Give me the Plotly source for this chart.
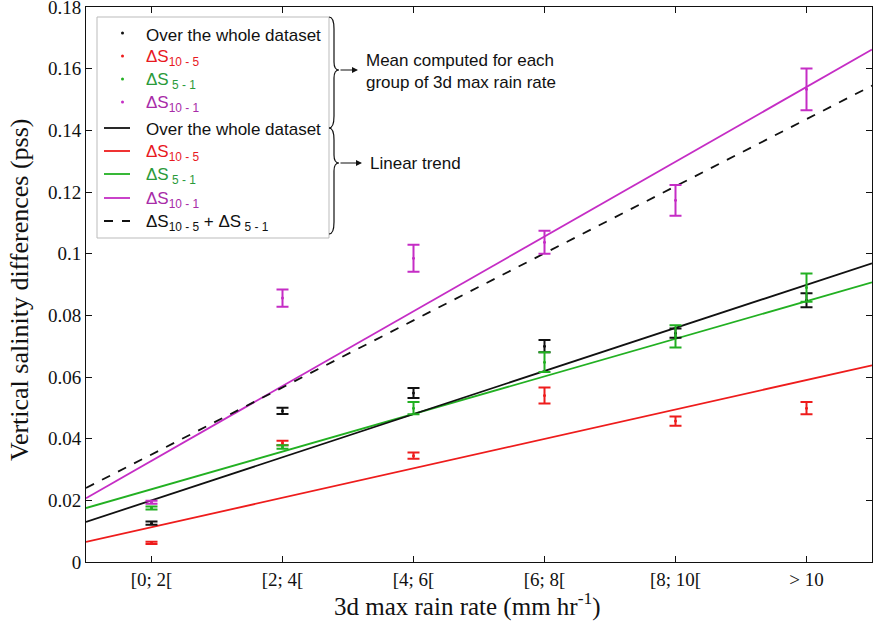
import plotly.graph_objects as go

# ---------------- data ----------------
categories = ["[0; 2[", "[2; 4[", "[4; 6[", "[6; 8[", "[8; 10[", "> 10"]
cat_pos = [1, 2, 3, 4, 5, 6]

all_mean = [0.0126, 0.0490, 0.0548, 0.0700, 0.0742, 0.0849]
all_err = [0.0005, 0.0010, 0.0016, 0.0020, 0.0015, 0.0023]
d105_mean = [0.0062, 0.0386, 0.0345, 0.0540, 0.0457, 0.0499]
d105_err = [0.0004, 0.0007, 0.0010, 0.0026, 0.0015, 0.0020]
d51_mean = [0.0175, 0.0373, 0.0499, 0.0648, 0.0732, 0.0890]
d51_err = [0.0005, 0.0006, 0.0020, 0.0032, 0.0036, 0.0046]
d101_mean = [0.0194, 0.0856, 0.0985, 0.1037, 0.1173, 0.1533]
d101_err = [0.0005, 0.0028, 0.0044, 0.0037, 0.0050, 0.0068]

trend_x = [0.5, 6.5]
trend_all = [0.0130, 0.0969]
trend_105 = [0.0065, 0.0638]
trend_51 = [0.0175, 0.0907]
trend_101 = [0.0207, 0.1662]
trend_sum = [a + b for a, b in zip(trend_105, trend_51)]

y_ticks = [0, 0.02, 0.04, 0.06, 0.08, 0.1, 0.12, 0.14, 0.16, 0.18]
y_ticktext = ["0", "0.02", "0.04", "0.06", "0.08", "0.1", "0.12", "0.14", "0.16", "0.18"]

BLACK = "#111111"
RED = "#ee1c1c"
GREEN = "#22b022"
PURPLE = "#c52dc5"
T_RED = "#e8191f"
T_GREEN = "#2a9a3a"
T_PURPLE = "#a82ca8"

fig = go.Figure()

# trend lines
for ys, col, dash in [(trend_105, RED, "solid"), (trend_51, GREEN, "solid"),
                      (trend_all, BLACK, "solid"), (trend_101, PURPLE, "solid"),
                      (trend_sum, BLACK, "dash")]:
    fig.add_trace(go.Scatter(x=trend_x, y=ys, mode="lines",
                             line=dict(color=col, width=1.8, dash=dash),
                             showlegend=False, hoverinfo="skip"))

# means with error bars
for m, e, col in [(all_mean, all_err, BLACK), (d105_mean, d105_err, RED),
                  (d51_mean, d51_err, GREEN), (d101_mean, d101_err, PURPLE)]:
    fig.add_trace(go.Scatter(x=cat_pos, y=m, mode="markers",
                             marker=dict(color=col, size=3),
                             error_y=dict(type="data", array=e, color=col,
                                          thickness=2, width=6),
                             showlegend=False))

# ---------------- manual legend ----------------
L, R, T, B = 86, 872, 7, 562
def px(p):
    return (p - L) / (R - L)
def py(p):
    return (B - p) / (B - T)

shapes = []
annotations = []

# legend box
shapes.append(dict(type="rect", xref="paper", yref="paper",
                   x0=px(97), x1=px(329), y0=py(238), y1=py(17),
                   line=dict(color="#bbbbbb", width=1), fillcolor="white", layer="above"))

rows = [33, 56, 79, 102, 128, 151, 174, 198, 221]
FONT = "Liberation Sans, Arial, sans-serif"
LFS = 17
legend_items = [
    ("marker", BLACK, "Over the whole dataset", BLACK),
    ("marker", RED, "ΔS<sub>10 - 5</sub>", T_RED),
    ("marker", GREEN, "ΔS<sub> 5 - 1</sub>", T_GREEN),
    ("marker", PURPLE, "ΔS<sub>10 - 1</sub>", T_PURPLE),
    ("line", BLACK, "Over the whole dataset", BLACK),
    ("line", RED, "ΔS<sub>10 - 5</sub>", T_RED),
    ("line", GREEN, "ΔS<sub> 5 - 1</sub>", T_GREEN),
    ("line", PURPLE, "ΔS<sub>10 - 1</sub>", T_PURPLE),
    ("dash", BLACK, "ΔS<sub>10 - 5</sub> + ΔS<sub> 5 - 1</sub>", BLACK),
]
for yrow, (kind, col, txt, tcol) in zip(rows, legend_items):
    if kind == "marker":
        shapes.append(dict(type="circle", xref="paper", yref="paper",
                           x0=px(121), x1=px(124), y0=py(yrow + 1.5), y1=py(yrow - 1.5),
                           fillcolor=col, line=dict(color=col, width=0), layer="above"))
    else:
        shapes.append(dict(type="line", xref="paper", yref="paper",
                           x0=px(104), x1=px(130), y0=py(yrow), y1=py(yrow),
                           line=dict(color=col, width=1.8,
                                     dash="dash" if kind == "dash" else "solid"),
                           layer="above"))
    annotations.append(dict(xref="paper", yref="paper", x=px(144), y=py(yrow + 2),
                            xanchor="left", yanchor="middle", text=txt, showarrow=False,
                            font=dict(family=FONT, size=LFS, color=tcol)))

# braces
def brace(top, tip, bottom, xb=329, xm=334, xt=339):
    pts = (f"M {px(xb)},{py(top)} "
           f"Q {px(xm)},{py(top)} {px(xm)},{py(top + 12)} "
           f"L {px(xm)},{py(tip - 8)} "
           f"Q {px(xm)},{py(tip)} {px(xt)},{py(tip)} "
           f"Q {px(xm)},{py(tip)} {px(xm)},{py(tip + 8)} "
           f"L {px(xm)},{py(bottom - 12)} "
           f"Q {px(xm)},{py(bottom)} {px(xb)},{py(bottom)}")
    return dict(type="path", xref="paper", yref="paper", path=pts,
                line=dict(color=BLACK, width=1.2), layer="above")

shapes.append(brace(17, 70, 128))
shapes.append(brace(128, 163, 234))

# arrows
for y_arrow, x_tail, x_head in [(70, 339, 358), (163, 339, 362)]:
    annotations.append(dict(xref="paper", yref="paper", x=px(x_head), y=py(y_arrow),
                            ax=x_tail - x_head, ay=0, axref="pixel", ayref="pixel",
                            text="", showarrow=True, arrowhead=2, arrowsize=1,
                            arrowwidth=1.2, arrowcolor=BLACK))

annotations.append(dict(xref="paper", yref="paper", x=px(364), y=py(71),
                        xanchor="left", yanchor="middle", align="left",
                        text="Mean computed for each<br>group of 3d max rain rate",
                        showarrow=False, font=dict(family=FONT, size=LFS, color=BLACK)))
annotations.append(dict(xref="paper", yref="paper", x=px(368), y=py(163),
                        xanchor="left", yanchor="middle", text="Linear trend",
                        showarrow=False, font=dict(family=FONT, size=LFS, color=BLACK)))

SERIF = "Liberation Serif, Times New Roman, serif"
# axis titles
annotations.append(dict(xref="paper", yref="paper", x=px(467), y=py(604),
                        xanchor="center", yanchor="middle", showarrow=False,
                        text="3d max rain rate (mm hr<sup>-1</sup>)",
                        font=dict(family=SERIF, size=25, color=BLACK)))
annotations.append(dict(xref="paper", yref="paper", x=px(19), y=py(290),
                        xanchor="center", yanchor="middle", showarrow=False,
                        textangle=-90, text="Vertical salinity differences (pss)",
                        font=dict(family=SERIF, size=26, color=BLACK)))

fig.update_layout(
    width=876, height=625,
    margin=dict(l=L, r=876 - R, t=T, b=625 - B),
    paper_bgcolor="white", plot_bgcolor="white",
    shapes=shapes, annotations=annotations,
    showlegend=False,
    xaxis=dict(range=[0.5, 6.5], tickvals=cat_pos, ticktext=categories,
               ticks="inside", ticklen=6, tickcolor=BLACK, showline=True,
               linecolor=BLACK, linewidth=1, mirror="ticks", showgrid=False,
               zeroline=False, automargin=False,
               tickfont=dict(family=SERIF, size=19, color=BLACK)),
    yaxis=dict(range=[0, 0.18001], tickvals=y_ticks, ticktext=y_ticktext,
               ticks="inside", ticklen=6, tickcolor=BLACK, showline=True,
               linecolor=BLACK, linewidth=1, mirror="ticks", showgrid=False,
               zeroline=False, automargin=False, ticklabeloverflow="allow",
               tickfont=dict(family=SERIF, size=19, color=BLACK)),
)

fig.write_html("out.html", config={"displayModeBar": False},
               post_script="document.body.style.margin='0px';")
